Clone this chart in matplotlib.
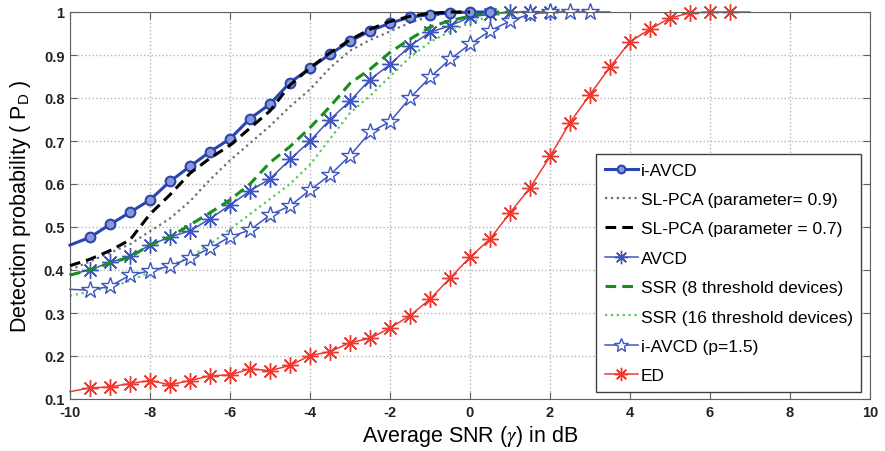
import matplotlib
matplotlib.use('Agg')
import matplotlib.pyplot as plt

plt.rcParams['font.family'] = ['Liberation Sans', 'DejaVu Sans']
plt.rcParams['mathtext.fontset'] = 'stix'
plt.rcParams['axes.unicode_minus'] = False
plt.rcParams['xtick.direction'] = 'in'
plt.rcParams['ytick.direction'] = 'in'

# SNR grid points (dB)
x_iavcd = [-10, -9.5, -9, -8.5, -8, -7.5, -7, -6.5, -6, -5.5, -5, -4.5, -4, -3.5, -3, -2.5,
           -2, -1.5, -1, -0.5, 0, 0.5]
y_iavcd = [0.458, 0.476, 0.506, 0.534, 0.563, 0.606, 0.641, 0.675, 0.705, 0.752, 0.786, 0.836,
           0.869, 0.902, 0.932, 0.956, 0.974, 0.988, 0.994, 0.998, 1.0, 1.0]

x_slpca = [-10, -9.5, -9, -8.5, -8, -7.5, -7, -6.5, -6, -5.5, -5, -4.5, -4, -3.5, -3, -2.5,
           -2, -1.5, -1, -0.5, 0]
y_slpca09 = [0.40, 0.42, 0.44, 0.46, 0.49, 0.52, 0.56, 0.61, 0.655, 0.695, 0.735, 0.78,
             0.82, 0.87, 0.91, 0.935, 0.955, 0.975, 0.99, 0.998, 1.0]
y_slpca07 = [0.41, 0.425, 0.445, 0.47, 0.53, 0.575, 0.625, 0.66, 0.69, 0.73, 0.77, 0.83,
             0.87, 0.905, 0.935, 0.96, 0.978, 0.99, 0.997, 1.0, 1.0]

x_avcd = [-10, -9.5, -9, -8.5, -8, -7.5, -7, -6.5, -6, -5.5, -5, -4.5, -4, -3.5, -3, -2.5,
          -2, -1.5, -1, -0.5, 0, 0.5, 1, 1.5, 2]
y_avcd = [0.39, 0.40, 0.418, 0.432, 0.458, 0.477, 0.491, 0.519, 0.551, 0.584, 0.612, 0.657,
          0.70, 0.75, 0.793, 0.843, 0.878, 0.921, 0.953, 0.968, 0.988, 0.995, 1.0, 1.0, 1.0]

x_ssr = [-10, -9.5, -9, -8.5, -8, -7.5, -7, -6.5, -6, -5.5, -5, -4.5, -4, -3.5, -3, -2.5,
         -2, -1.5, -1, -0.5, 0, 0.5, 1]
y_ssr8 = [0.388, 0.40, 0.416, 0.43, 0.458, 0.477, 0.505, 0.533, 0.563, 0.60, 0.65, 0.687,
          0.731, 0.78, 0.834, 0.867, 0.906, 0.937, 0.965, 0.98, 0.99, 1.0, 1.0]
y_ssr16 = [0.34, 0.35, 0.36, 0.375, 0.395, 0.41, 0.43, 0.46, 0.495, 0.53, 0.565, 0.60,
           0.645, 0.705, 0.765, 0.805, 0.85, 0.895, 0.93, 0.955, 0.975, 0.99, 1.0]

x_iavcd_p = [-10, -9.5, -9, -8.5, -8, -7.5, -7, -6.5, -6, -5.5, -5, -4.5, -4, -3.5, -3, -2.5,
             -2, -1.5, -1, -0.5, 0, 0.5, 1, 1.5, 2, 2.5, 3, 3.5]
y_iavcd_p = [0.355, 0.353, 0.362, 0.388, 0.398, 0.409, 0.428, 0.451, 0.477, 0.493, 0.528, 0.549,
             0.586, 0.621, 0.666, 0.72, 0.745, 0.80, 0.848, 0.89, 0.925, 0.956, 0.979, 0.995,
             1.0, 1.0, 1.0, 1.0]

x_ed = [-10, -9.5, -9, -8.5, -8, -7.5, -7, -6.5, -6, -5.5, -5, -4.5, -4, -3.5, -3, -2.5,
        -2, -1.5, -1, -0.5, 0, 0.5, 1, 1.5, 2, 2.5, 3, 3.5, 4, 4.5, 5, 5.5, 6, 6.5, 7]
y_ed = [0.117, 0.126, 0.128, 0.136, 0.143, 0.133, 0.143, 0.154, 0.156, 0.17, 0.166, 0.178,
        0.201, 0.21, 0.231, 0.241, 0.265, 0.294, 0.332, 0.381, 0.43, 0.472, 0.533, 0.591,
        0.664, 0.743, 0.808, 0.872, 0.931, 0.96, 0.986, 0.998, 1.0, 1.0, 1.0]

x_ticks = [-10, -8, -6, -4, -2, 0, 2, 4, 6, 8, 10]
y_ticks = [0.1, 0.2, 0.3, 0.4, 0.5, 0.6, 0.7, 0.8, 0.9, 1]
y_ticklabels = ['0.1', '0.2', '0.3', '0.4', '0.5', '0.6', '0.7', '0.8', '0.9', '1']

blue = '#2a44b0'
blue2 = '#3f55be'
asterisk = (8, 2, 0)

fig = plt.figure(figsize=(8.85, 4.52), dpi=100)
ax = fig.add_axes([70 / 885, 52 / 452, 800 / 885, 387 / 452])

ax.plot(x_iavcd, y_iavcd, '-', color=blue, lw=2.2, marker='o', ms=7, mew=1.5,
        mfc='#8a98d4', markevery=slice(1, None), clip_on=False, label='i-AVCD', zorder=5)
ax.plot(x_slpca, y_slpca09, ':', color='#6e6e6e', lw=1.6, clip_on=False,
        label='SL-PCA (parameter= 0.9)')
ax.plot(x_slpca, y_slpca07, '--', color='black', lw=2.2, dashes=(3.5, 2), clip_on=False,
        label='SL-PCA (parameter = 0.7)', zorder=6)
ax.plot(x_avcd, y_avcd, '-', color=blue2, lw=1.1, marker=asterisk, ms=12, mew=1.0,
        markevery=slice(1, None), clip_on=False, label='AVCD')
ax.plot(x_ssr, y_ssr8, '--', color='#16901a', lw=2.2, dashes=(3.5, 2), clip_on=False,
        label='SSR (8 threshold devices)', zorder=4)
ax.plot(x_ssr, y_ssr16, ':', color='#5ac85a', lw=1.6, clip_on=False,
        label='SSR (16 threshold devices)')
ax.plot(x_iavcd_p, y_iavcd_p, '-', color=blue2, lw=1.1, marker='*', ms=13, mew=1.0,
        mfc='white', markevery=slice(1, -1), clip_on=False, label='i-AVCD (p=1.5)')
ax.plot(x_ed, y_ed, '-', color='#ec3a30', lw=1.1, marker=asterisk, ms=12, mew=1.0,
        markevery=slice(1, -1), clip_on=False, label='ED')

ax.set_xlim(-10, 10)
ax.set_ylim(0.1, 1)
ax.set_xticks(x_ticks)
ax.set_yticks(y_ticks)
ax.set_yticklabels(y_ticklabels)
ax.grid(True, linestyle=':', color='#b5b5b5', lw=1.0)
ax.tick_params(top=True, right=True, labelsize=10.5, length=5, color='#606060', pad=4)
for lab in ax.get_xticklabels() + ax.get_yticklabels():
    lab.set_fontweight('bold')
    lab.set_color('#222222')
for s in ax.spines.values():
    s.set_color('#606060')

ax.set_xlabel('Average SNR ($\\gamma$) in dB', fontsize=15.5, labelpad=3)
ax.set_ylabel('Detection probability ( $\\mathregular{P_D}$ )', fontsize=15.5, labelpad=8)

leg = ax.legend(loc='lower right', bbox_to_anchor=(0.989, 0.018), borderaxespad=0,
                fontsize=12.5, fancybox=False, edgecolor='#404040', framealpha=1,
                handlelength=1.9, handletextpad=0.15, labelspacing=0.82,
                borderpad=0.5, markerscale=0.8)
leg.get_frame().set_linewidth(1.0)

fig.savefig('out.png', dpi=100)
